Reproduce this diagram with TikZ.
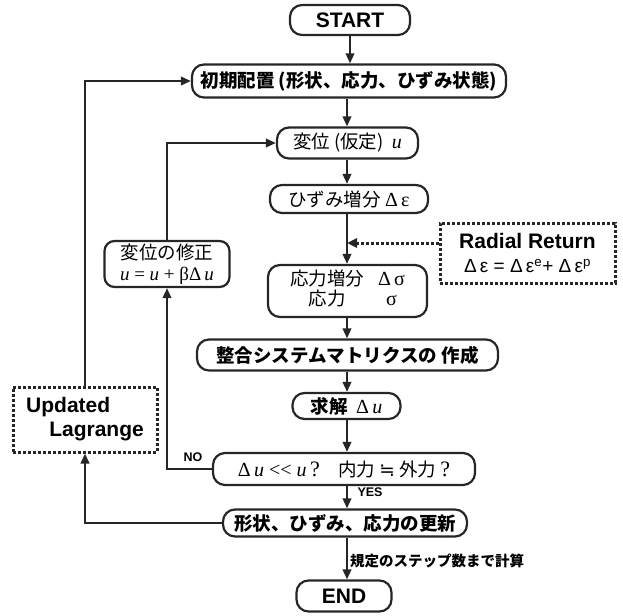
\documentclass[tikz,border=0pt]{standalone}
\usepackage{fontspec}
\setmainfont{Liberation Sans}
\newfontfamily\jp{Noto Sans CJK JP}
\newfontfamily\gr{Liberation Serif}
\newfontfamily\dv{DejaVu Sans}
\usetikzlibrary{arrows.meta}
\newcommand\vu{{\gr\mdseries\itshape u}}
\newcommand\jfs{\fontsize{18.5}{22}\selectfont}
\begin{document}
\begin{tikzpicture}[x=1pt,y=-1pt,
  box/.style={draw=black!85, line width=2.2pt, rounded corners=12pt, inner sep=0pt, font=\jp\jfs},
  latinbig/.style={font=\bfseries\fontsize{21}{24}\selectfont},
  dotbox/.style={draw=black!85, line width=3pt, dash pattern=on 3pt off 2pt, inner sep=0pt},
  arr/.style={draw=black!85, line width=2.2pt, -{Triangle[length=10pt,width=8.5pt]}},
  dotarr/.style={draw=black!85, line width=3pt, dash pattern=on 3pt off 2pt, -{Triangle[length=10pt,width=9pt]}},
  lbl/.style={font=\bfseries\fontsize{12.5}{14}\selectfont, inner sep=0pt}]
\useasboundingbox (0,0) rectangle (623,615);
\coordinate (mx) at (347,0);
\coordinate (rj) at (347,243);

\node[box, latinbig, minimum width=120pt, minimum height=30pt] (start) at (350,20) {START};
\node[box, minimum width=314pt, minimum height=33pt, font=\jp\bfseries\jfs] (init) at (349,81) {初期配置 (形状、応力、ひずみ状態)};
\node[box, minimum width=141pt, minimum height=31pt] (disp) at (347.5,143) {変位 (仮定)\ \ {\fontsize{20}{22}\selectfont\vu}};
\node[box, minimum width=158pt, minimum height=28pt] (strain) at (349,199) {ひずみ増分 {\gr\fontsize{20}{22}\selectfont Δ\,ε}};
\node[box, minimum width=159pt, minimum height=52pt, align=center] (stress) at (347.5,291)
  {\begin{tabular}{@{}c@{\hspace{14pt}}c@{}}応力増分 & {\gr\fontsize{20}{22}\selectfont Δ\,σ}\\[-2pt] 応力 & {\gr\fontsize{20}{22}\selectfont σ}\end{tabular}};
\node[box, minimum width=301pt, minimum height=31pt, font=\jp\bfseries\jfs] (matrix) at (347.5,355) {整合システムマトリクスの 作成};
\node[box, minimum width=108pt, minimum height=26pt, font=\jp\bfseries\jfs] (solve) at (346.5,406) {求解\ \ {\gr\mdseries\fontsize{20}{22}\selectfont Δ\,\vu}};
\node[box, minimum width=262pt, minimum height=32pt] (dec) at (344,469)
  {{\gr\fontsize{20}{22}\selectfont Δ\,\vu\ <<\ \vu\,{\fontsize{22}{24}\selectfont ?}}\quad 内力 {\dv ≒} 外力 {\gr\fontsize{22}{24}\selectfont ?}};
\node[box, minimum width=244pt, minimum height=27pt, font=\jp\bfseries\jfs] (upd) at (345,523) {形状、ひずみ、応力の更新};
\node[box, latinbig, minimum width=95pt, minimum height=31pt] (end) at (344,596) {END};

\node[dotbox, minimum width=175pt, minimum height=60pt, align=center, font=\fontsize{19}{24}\selectfont] (radial) at (527.5,253)
  {{\bfseries\fontsize{21}{24}\selectfont Radial Return}\\
   Δ\,ε = Δ\,ε\textsuperscript{e}+ Δ\,ε\textsuperscript{p}};
\node[box, minimum width=125pt, minimum height=46pt, rounded corners=10pt, align=center] (corr) at (167,264)
  {変位の修正\\[-1pt] {\gr\fontsize{19}{21}\selectfont\vu\ = \vu\ + βΔ\,\vu}};
\node[dotbox, latinbig, minimum width=144pt, minimum height=65pt, align=left] (lag) at (85,419.5)
  {Updated\\\hspace*{1.1em}Lagrange};

% main column
\draw[arr] (start.south) -- (start.south |- init.north);
\draw[arr] (init.south -| mx) -- (disp.north -| mx);
\draw[arr] (disp.south -| mx) -- (strain.north -| mx);
\draw[arr] (strain.south -| mx) -- (stress.north -| mx);
\draw[arr] (stress.south -| mx) -- (matrix.north -| mx);
\draw[arr] (matrix.south -| mx) -- (solve.north -| mx);
\draw[arr] (solve.south -| mx) -- (dec.north -| mx);
\draw[arr] (dec.south -| mx) -- (upd.north -| mx);
\draw[arr] (upd.south -| mx) -- (end.north -| mx);

% radial return
\draw[dotarr] (rj -| radial.west) -- (rj);

% inner loop
\draw[arr] (dec.west) -| (corr.south);
\draw[arr] (corr.north) |- (disp.west);

% outer loop
\draw[arr] (upd.west) -| (lag.south);
\draw[arr] (lag.north) |- (init.west);

% labels
\node[lbl] (no) at (193,457) {NO};
\node[lbl] (yes) at (370,492) {YES};
\node[anchor=west, inner sep=0pt, font=\jp\bfseries\fontsize{14.5}{16}\selectfont] (steps) at (350,561) {規定のステップ数まで計算};
\end{tikzpicture}
\end{document}
